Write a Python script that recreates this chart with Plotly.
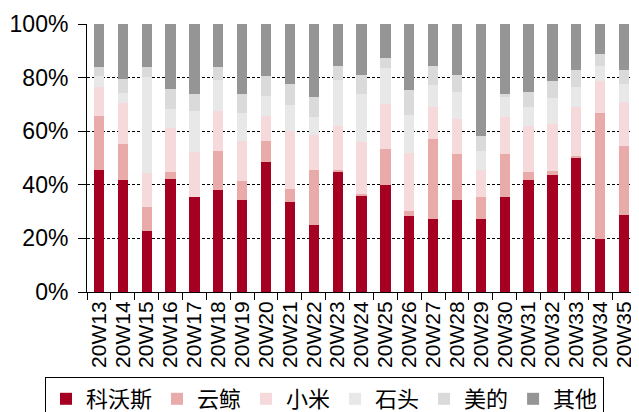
import plotly.graph_objects as go

weeks = ["20W13","20W14","20W15","20W16","20W17","20W18","20W19","20W20","20W21","20W22",
         "20W23","20W24","20W25","20W26","20W27","20W28","20W29","20W30","20W31","20W32",
         "20W33","20W34","20W35"]

ecovacs = [45.6,41.8,22.7,42.3,35.5,37.9,34.5,48.4,33.7,24.9,45.1,36.0,39.8,28.3,27.4,34.5,27.4,35.5,41.8,43.6,49.9,19.7,28.8]
narwal  = [20.1,13.4, 9.0, 2.3, 0.0,14.8, 6.8, 8.1, 4.7,20.6, 0.4, 0.4,13.4, 2.0,29.7,16.9, 8.1,15.9, 2.8, 1.5, 1.0,47.0,25.8]
xiaomi  = [10.9,15.2,12.6,16.7,16.7,14.9,15.2, 9.2,21.5,13.0,16.3,19.7,16.9,21.4,11.9,13.3,10.1,13.9,17.2,17.6,18.1,12.0,16.3]
roborock= [ 4.1, 3.8,35.9, 6.8,15.4,11.6,10.2, 7.4, 9.9, 6.8,17.4,17.7,13.3,14.4, 8.2,10.0, 7.1, 7.6, 7.2, 9.7, 7.6, 5.7, 6.8]
midea   = [ 3.2, 5.4, 3.7, 7.7, 6.2, 4.7, 7.1, 7.4, 7.9, 7.6, 5.2, 7.2, 3.8, 9.2, 7.2, 6.3, 5.4, 0.9, 5.8, 6.3, 6.3, 4.4, 5.2]
others  = [16.1,20.4,16.1,24.2,26.2,16.1,26.2,19.5,22.3,27.1,15.6,19.0,12.8,24.7,15.6,19.0,41.9,26.2,25.2,21.3,17.1,11.2,17.1]

series_names = ["科沃斯", "云鲸", "小米", "石头", "美的", "其他"]
series_values = [ecovacs, narwal, xiaomi, roborock, midea, others]
colors = ["#A50021", "#E9AAAA", "#F6D9DA", "#E8E8E8", "#DADADA", "#959595"]

y_tickvals = [0, 20, 40, 60, 80, 100]

# page has an 8px body margin, so the figure is 8px smaller on each axis
W, H = 631, 404
ML, MR, MT, MB = 79, 3, 16, 120
PW, PH = W - ML - MR, H - MT - MB

fig = go.Figure()
for name, vals, col in zip(series_names, series_values, colors):
    fig.add_trace(go.Bar(x=weeks, y=vals, name=name, marker=dict(color=col, line=dict(width=0))))

leg_left, leg_top = 37, 369   # figure pixels
fig.update_layout(
    barmode="stack",
    bargap=0.57,
    width=W, height=H,
    margin=dict(l=ML, r=MR, t=MT, b=MB, autoexpand=False),
    paper_bgcolor="white", plot_bgcolor="white",
    font=dict(family="Liberation Sans, Arial", color="black"),
    showlegend=True,
    legend=dict(
        orientation="h",
        x=(leg_left - ML) / PW, y=(MT + PH - leg_top) / PH,
        xanchor="left", yanchor="top",
        bordercolor="black", borderwidth=1,
        font=dict(family="Noto Sans CJK SC", size=22, color="black"),
        traceorder="normal",
        itemwidth=30,
    ),
)
fig.update_xaxes(
    type="category",
    tickmode="array", tickvals=weeks, ticktext=weeks,
    tickangle=-90,
    tickson="boundaries",
    ticks="outside", ticklen=7, tickcolor="black", tickwidth=1,
    showline=True, linecolor="black", linewidth=1,
    tickfont=dict(size=21, family="Liberation Sans, Arial"),
    showgrid=False,
)
fig.update_yaxes(
    range=[0, 100],
    tickmode="array", tickvals=y_tickvals, ticktext=[f"{v}%" for v in y_tickvals],
    ticks="outside", ticklen=8, tickcolor="black", tickwidth=1,
    ticklabelstandoff=5,
    showline=True, linecolor="black", linewidth=1,
    showgrid=True, gridcolor="black", gridwidth=1, griddash="3px,2px",
    tickfont=dict(size=23, family="Liberation Sans, Arial"),
    zeroline=False,
)

fig.write_html("out.html")
